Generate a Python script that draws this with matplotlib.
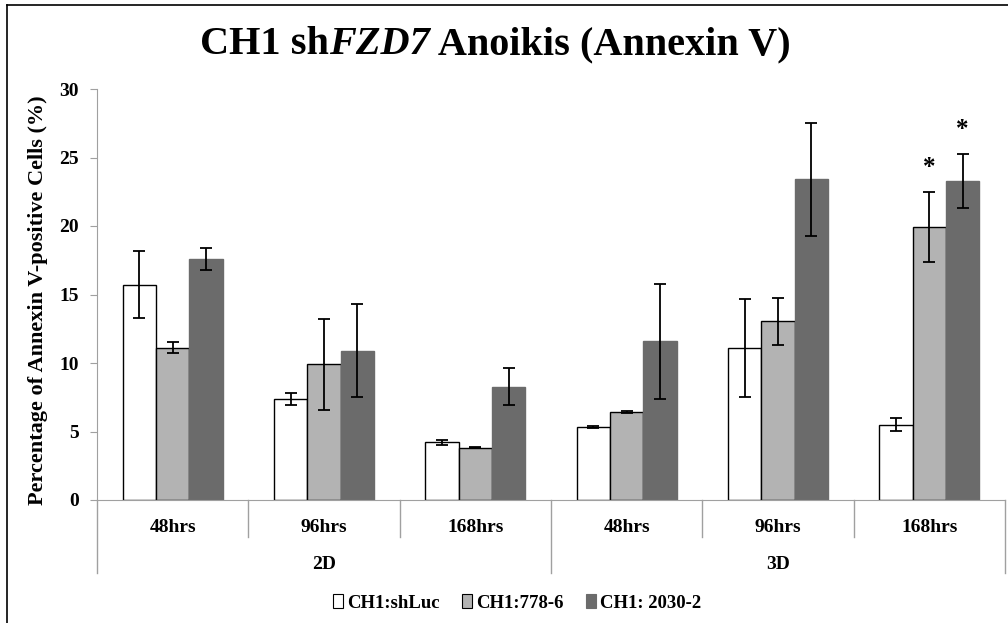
import matplotlib.pyplot as plt
from matplotlib.patches import Patch
from matplotlib.lines import Line2D
import numpy as np

# data
time_labels = ['48hrs', '96hrs', '168hrs', '48hrs', '96hrs', '168hrs']
culture_labels = ['2D', '3D']
series_names = ['CH1:shLuc', 'CH1:778-6', 'CH1: 2030-2']
shluc = [15.7, 7.35, 4.2, 5.33, 11.1, 5.5]
shluc_err = [2.45, 0.45, 0.2, 0.05, 3.55, 0.45]
fzd778 = [11.1, 9.9, 3.82, 6.42, 13.05, 19.95]
fzd778_err = [0.4, 3.3, 0.04, 0.05, 1.73, 2.55]
fzd2030 = [17.6, 10.9, 8.25, 11.6, 23.4, 23.3]
fzd2030_err = [0.8, 3.4, 1.35, 4.2, 4.15, 1.97]
star_marks = [(5, 1), (5, 2)]  # (group, series) with significance

plt.rcParams['font.family'] = ['Liberation Serif', 'DejaVu Serif']
plt.rcParams['font.weight'] = 'bold'

fig = plt.figure(figsize=(10.08, 6.23), dpi=100)
ax = fig.add_axes([97 / 1008, 123 / 623, 908 / 1008, 411 / 623])

x = np.arange(len(time_labels))
w = 0.22
colors = ['white', '#b3b3b3', '#6b6b6b']
edges = ['black', 'black', '#6b6b6b']
vals = [shluc, fzd778, fzd2030]
errs = [shluc_err, fzd778_err, fzd2030_err]
for i in range(3):
    ax.bar(x + (i - 1) * w, vals[i], w, color=colors[i], edgecolor=edges[i],
           linewidth=1.0, zorder=2)
    ax.errorbar(x + (i - 1) * w, vals[i], yerr=errs[i], fmt='none',
                ecolor='black', elinewidth=1.3, capsize=4, capthick=1.3, zorder=3)

for g, s in star_marks:
    top = vals[s][g] + errs[s][g]
    ax.text(x[g] + (s - 1) * w, top + 0.9, '*', ha='center', va='bottom',
            fontsize=18, fontweight='bold')

ax.set_xlim(-0.5, len(x) - 0.5)
ax.set_ylim(0, 30)
ax.set_yticks(range(0, 31, 5))
ax.tick_params(axis='y', direction='out', length=5, color='#a0a0a0',
               labelsize=14, pad=8)
ax.set_xticks([])
for side in ['top', 'right']:
    ax.spines[side].set_visible(False)
ax.spines['left'].set_color('#a0a0a0')
ax.spines['bottom'].set_color('#a0a0a0')

ax.set_ylabel('Percentage of Annexin V-positive Cells (%)', fontsize=16,
              fontweight='bold')
ax.yaxis.set_label_coords(-0.054, 0.487)

# category axis (two levels)
trans = ax.get_xaxis_transform()
inner, outer = -0.0893, -0.1776
for b in np.arange(-0.5, len(x), 1.0):
    bottom = outer if b in (-0.5, 2.5, 5.5) else inner
    ax.add_line(Line2D([b, b], [0, bottom], transform=trans, color='#a0a0a0',
                       lw=1, clip_on=False))
for xi, lab in zip(x, time_labels):
    ax.text(xi, -0.066, lab, transform=trans, ha='center', va='center',
            fontsize=14, fontweight='bold')
for k, lab in enumerate(culture_labels):
    ax.text(1 + 3 * k, -0.156, lab, transform=trans, ha='center', va='center',
            fontsize=14, fontweight='bold')

# title in three pieces so that FZD7 is italic
pieces = [('CH1 sh', 'normal'), ('FZD7', 'italic'), (' Anoikis (Annexin V)', 'normal')]
renderer = fig.canvas.get_renderer()
texts = [fig.text(0, 1 - 45 / 623, p, fontsize=29, fontweight='bold', style=st,
                  va='center', ha='left') for p, st in pieces]
widths = [t.get_window_extent(renderer).width for t in texts]
xpos = 495 - sum(widths) / 2
for t, wd in zip(texts, widths):
    t.set_x(xpos / 1008)
    xpos += wd

handles = [Patch(facecolor=colors[i], edgecolor=edges[i], linewidth=0.8)
           for i in range(3)]
fig.legend(handles, series_names, loc='center', bbox_to_anchor=(517 / 1008, 1 - 603 / 623),
           ncol=3, frameon=False, fontsize=13.5, handlelength=0.55, handleheight=0.75,
           handletextpad=0.2, columnspacing=1.2)

# outer chart frame
fig.add_artist(Line2D([7 / 1008, 7 / 1008], [0, 1 - 5 / 623], color='black', lw=1.2))
fig.add_artist(Line2D([7 / 1008, 1], [1 - 5 / 623, 1 - 5 / 623], color='black', lw=1.2))

fig.savefig('out.png', dpi=100)
